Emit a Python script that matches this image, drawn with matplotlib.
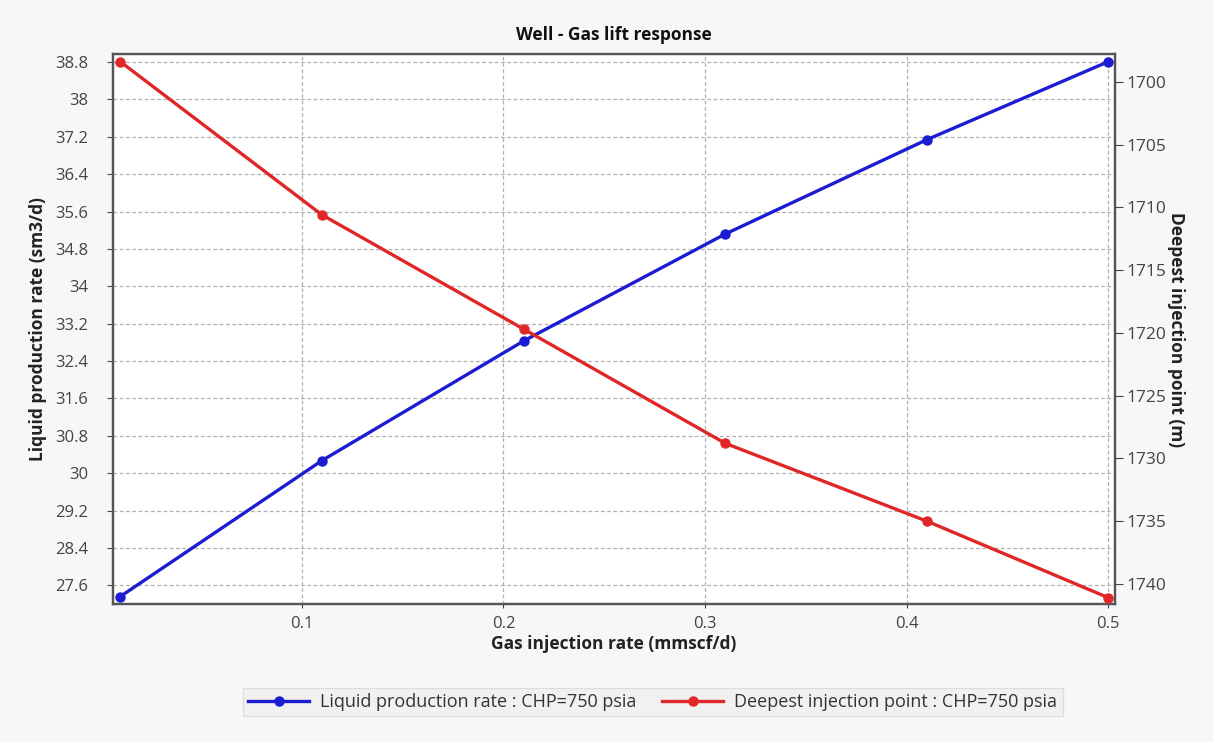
import matplotlib
matplotlib.use("Agg")
import matplotlib.pyplot as plt
import numpy as np

plt.rcParams['font.family'] = ['Open Sans', 'DejaVu Sans']

gas_rate = [0.01, 0.11, 0.21, 0.31, 0.41, 0.5]
liquid_rate = [27.36, 30.27, 32.83, 35.12, 37.14, 38.81]
injection_depth = [1698.4, 1710.6, 1719.7, 1728.8, 1735.0, 1741.1]

left_ticks = [27.6, 28.4, 29.2, 30.0, 30.8, 31.6, 32.4, 33.2, 34.0, 34.8, 35.6, 36.4, 37.2, 38.0, 38.8]
left_labels = ['27.6', '28.4', '29.2', '30', '30.8', '31.6', '32.4', '33.2', '34', '34.8', '35.6', '36.4', '37.2', '38', '38.8']
right_ticks = [1700, 1705, 1710, 1715, 1720, 1725, 1730, 1735, 1740]
x_ticks = [0.1, 0.2, 0.3, 0.4, 0.5]

blue = '#1c1cd2'
red = '#e02626'
tick_color = '#444444'

fig = plt.figure(figsize=(12.13, 7.42), dpi=100)
fig.patch.set_facecolor('#f7f7f7')
ax = fig.add_axes([0.0932, 0.186, 0.826, 0.741])
ax.set_facecolor('white')

l1, = ax.plot(gas_rate, liquid_rate, color=blue, lw=2.4, marker='o', ms=6.5,
              label='Liquid production rate : CHP=750 psia', zorder=3)
ax.set_xlim(0.0064, 0.5033)
ax.set_ylim(27.2, 38.97)
ax.set_yticks(left_ticks)
ax.set_yticklabels(left_labels)
ax.set_xticks(x_ticks)
ax.set_xticklabels(['0.1', '0.2', '0.3', '0.4', '0.5'])
ax.grid(True, color='#b0b0b0', linestyle=(0, (3, 2)), linewidth=0.9)
ax.tick_params(axis='x', colors=tick_color, labelsize=12, length=3, width=0.8, pad=6)
ax.tick_params(axis='y', colors=tick_color, labelsize=12, length=4, width=0.8, pad=14)
for s in ax.spines.values():
    s.set_color('#555555')
    s.set_linewidth(1.6)

ax.set_xlabel('Gas injection rate (mmscf/d)', fontsize=12.5, fontweight='bold', color='#222222', labelpad=2)
ax.set_ylabel('Liquid production rate (sm3/d)', fontsize=12.5, fontweight='bold', color='#222222', labelpad=6)
ax.set_title('Well - Gas lift response', fontsize=12.5, fontweight='bold', color='#111111', pad=10)

ax2 = ax.twinx()
l2, = ax2.plot(gas_rate, injection_depth, color=red, lw=2.4, marker='o', ms=6.5,
               label='Deepest injection point : CHP=750 psia', zorder=3)
ax2.set_ylim(1741.6, 1697.8)
ax2.set_yticks(right_ticks)
ax2.tick_params(axis='y', colors=tick_color, labelsize=12.5, length=6, width=0.8, pad=2)
ax2.set_ylabel('Deepest injection point (m)', fontsize=12.5, fontweight='bold', color='#222222',
               rotation=270, labelpad=14)
for s in ax2.spines.values():
    s.set_color('#555555')
    s.set_linewidth(1.6)

leg = fig.legend([l1, l2], [l1.get_label(), l2.get_label()], loc='center',
                 bbox_to_anchor=(0.538, 0.054), ncol=2, fontsize=13, frameon=True,
                 fancybox=False, edgecolor='#d8d8d8', facecolor='#f0f0f0',
                 handlelength=3.4, columnspacing=1.4, borderpad=0.3, handletextpad=0.6)
for t in leg.get_texts():
    t.set_color('#333333')

fig.savefig('out.png', dpi=100, facecolor=fig.get_facecolor())
